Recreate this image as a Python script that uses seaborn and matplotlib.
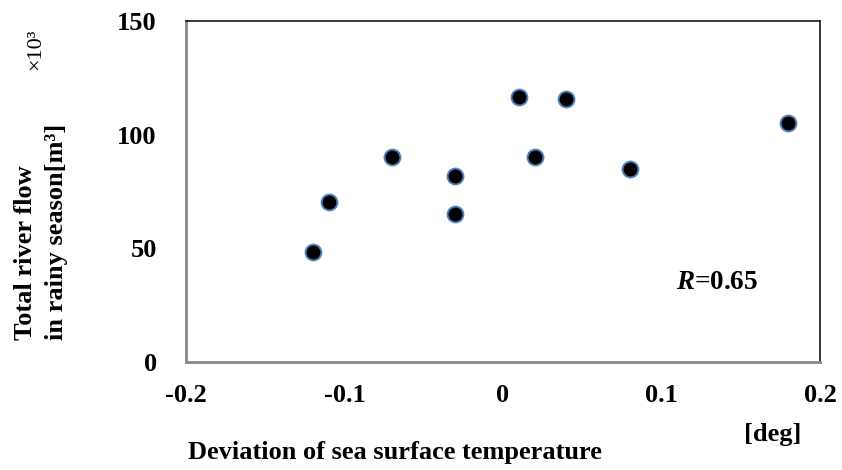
import matplotlib
matplotlib.use("Agg")
import matplotlib.pyplot as plt
import seaborn as sns
import pandas as pd

# Sea surface temperature deviation [deg] vs. total river flow in rainy season [x10^3 m^3]
sst_dev = [-0.12, -0.11, -0.07, -0.03, -0.03, 0.01, 0.02, 0.04, 0.08, 0.18]
river_flow = [48.5, 70.5, 90.0, 82.0, 65.0, 116.5, 90.0, 115.5, 85.0, 105.0]
x_ticks = [-0.2, -0.1, 0, 0.1, 0.2]
x_tick_labels = ["-0.2", "-0.1", "0", "0.1", "0.2"]
y_ticks = [0, 50, 100, 150]
r_value = "0.65"

sns.set_style("white")
plt.rcParams["font.family"] = ["Liberation Serif", "DejaVu Serif"]
plt.rcParams["text.color"] = "black"
plt.rcParams["xtick.labelcolor"] = "black"
plt.rcParams["ytick.labelcolor"] = "black"
plt.rcParams["mathtext.fontset"] = "custom"
plt.rcParams["mathtext.it"] = "Liberation Serif:bold:italic"
plt.rcParams["mathtext.rm"] = "Liberation Serif:bold"

df = pd.DataFrame({"sst": sst_dev, "flow": river_flow})

fig = plt.figure(figsize=(8.42, 4.70), dpi=100)
ax = fig.add_axes([186 / 842, 1 - 362 / 470, (820 - 186) / 842, (362 - 21) / 470])

sns.scatterplot(data=df, x="sst", y="flow", ax=ax, s=130, color="black",
                edgecolor="#4f81bd", linewidth=1.4, zorder=3)

ax.set_xlim(-0.2, 0.2)
ax.set_ylim(0, 150)
ax.set_xticks(x_ticks)
ax.set_xticklabels(x_tick_labels)
ax.set_yticks(y_ticks)
ax.set_xlabel("")
ax.set_ylabel("")

for side in ("left", "bottom"):
    ax.spines[side].set_color("#888888")
    ax.spines[side].set_linewidth(2.0)
for side in ("top", "right"):
    ax.spines[side].set_color("black")
    ax.spines[side].set_linewidth(1.1)
    ax.spines[side].set_visible(True)

ax.tick_params(axis="both", which="major", direction="inout", length=10,
               width=1.5, color="#888888", labelcolor="black", labelsize=19)
ax.tick_params(axis="y", pad=16)
ax.tick_params(axis="x", pad=11)
for lbl in ax.get_xticklabels() + ax.get_yticklabels():
    lbl.set_fontweight("bold")

# Correlation coefficient annotation
ax.text(0.135, 34.8, "$R$=" + r_value, fontsize=19.5, fontweight="bold",
        color="black", ha="center", va="center")

# Axis titles
ylab_bottom = 1 - 340 / 470
fig.text(25.5 / 842, ylab_bottom, "Total river flow", rotation=90,
         fontsize=19, fontweight="bold", ha="center", va="bottom")
fig.text(57 / 842, ylab_bottom, "in rainy season[m³]", rotation=90,
         fontsize=19, fontweight="bold", ha="center", va="bottom")
fig.text(35.5 / 842, 1 - 49 / 470, "×10³", rotation=90, fontsize=16,
         ha="center", va="center")
fig.text(395 / 842, 1 - 452 / 470, "Deviation of sea surface temperature",
         fontsize=19, fontweight="bold", ha="center", va="center")
fig.text(773 / 842, 1 - 434 / 470, "[deg]", fontsize=19, fontweight="bold",
         ha="center", va="center")

fig.savefig("out.png", dpi=100)
